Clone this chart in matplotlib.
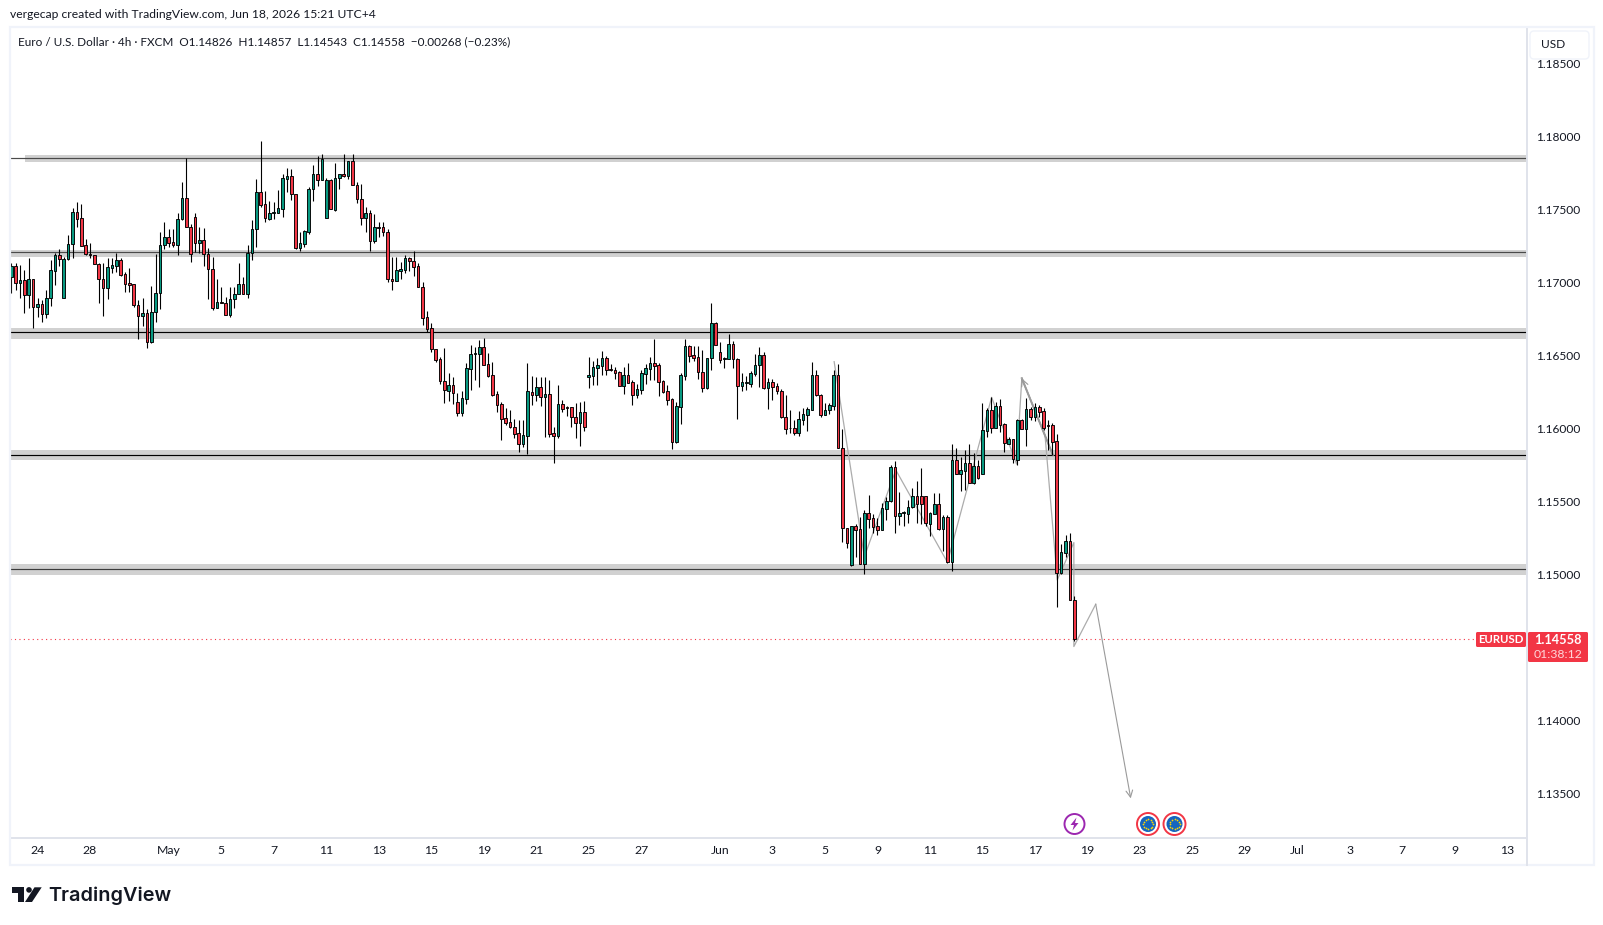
#! /usr/bin/env python3

# EUR/USD 4h candles with support/resistance zones, TradingView style
import matplotlib
matplotlib.use("Agg")
import matplotlib.pyplot as plt
from matplotlib.patches import Circle, FancyBboxPatch, Polygon, Rectangle
import numpy as np

W, H = 1603, 925

opens = [
    1.17041, 1.17115, 1.17000, 1.17019, 1.16918, 1.17023, 1.16831, 1.16854, 1.16788, 1.16893,
    1.17083, 1.17190, 1.16893, 1.17160, 1.17263, 1.17482, 1.17441, 1.17256, 1.17197, 1.17188,
    1.17126, 1.17023, 1.16966, 1.17103, 1.17117, 1.17153, 1.17057, 1.16996, 1.16989, 1.16845,
    1.16770, 1.16790, 1.16596, 1.16797, 1.16927, 1.17256, 1.17311, 1.17276, 1.17261, 1.17434,
    1.17578, 1.17379, 1.17448, 1.17270, 1.17290, 1.17194, 1.17092, 1.16825, 1.16866, 1.16859,
    1.16777, 1.16886, 1.16920, 1.16989, 1.16920, 1.17201, 1.17366, 1.17619, 1.17537, 1.17439,
    1.17475, 1.17480, 1.17507, 1.17713, 1.17729, 1.17605, 1.17240, 1.17268, 1.17350, 1.17640,
    1.17742, 1.17706, 1.17446, 1.17701, 1.17500, 1.17715, 1.17742, 1.17729, 1.17831, 1.17667,
    1.17571, 1.17441, 1.17475, 1.17283, 1.17382, 1.17379, 1.17345, 1.17023, 1.17014, 1.17083,
    1.17090, 1.17167, 1.17147, 1.17112, 1.16968, 1.16763, 1.16687, 1.16548, 1.16475, 1.16329,
    1.16261, 1.16297, 1.16181, 1.16108, 1.16206, 1.16412, 1.16512, 1.16514, 1.16557, 1.16441,
    1.16365, 1.16236, 1.16167, 1.16071, 1.16044, 1.16010, 1.15968, 1.15898, 1.15953, 1.16254,
    1.16233, 1.16283, 1.16219, 1.16235, 1.15968, 1.15952, 1.16167, 1.16149, 1.16146, 1.16078,
    1.16041, 1.16112, 1.16356, 1.16363, 1.16418, 1.16432, 1.16482, 1.16409, 1.16402, 1.16386,
    1.16295, 1.16366, 1.16318, 1.16233, 1.16268, 1.16377, 1.16411, 1.16450, 1.16434, 1.16327,
    1.16256, 1.16203, 1.15911, 1.16151, 1.16363, 1.16564, 1.16502, 1.16489, 1.16386, 1.16281,
    1.16487, 1.16722, 1.16523, 1.16480, 1.16480, 1.16578, 1.16475, 1.16295, 1.16315, 1.16308,
    1.16377, 1.16434, 1.16502, 1.16281, 1.16318, 1.16290, 1.16256, 1.16078, 1.16007, 1.16003,
    1.15973, 1.16062, 1.16096, 1.16130, 1.16366, 1.16233, 1.16096, 1.16126, 1.16158, 1.16366,
    1.15866, 1.15318, 1.15069, 1.15332, 1.15311, 1.15076, 1.15421, 1.15386, 1.15334, 1.15309,
    1.15453, 1.15503, 1.15736, 1.15403, 1.15423, 1.15419, 1.15462, 1.15537, 1.15537, 1.15537,
    1.15350, 1.15419, 1.15482, 1.15316, 1.15393, 1.15090, 1.15784, 1.15691, 1.15713, 1.15763,
    1.15629, 1.15743, 1.15693, 1.15987, 1.16126, 1.16008, 1.16154, 1.16030, 1.15898, 1.15928,
    1.15789, 1.16058, 1.15996, 1.16133, 1.16083, 1.16147, 1.16119, 1.16024, 1.16024, 1.15914,
    1.15010, 1.15152, 1.15229, 1.14826,
]
highs = [
    1.17137, 1.17133, 1.17121, 1.17087, 1.17167, 1.17023, 1.16893, 1.16882, 1.16950, 1.17156,
    1.17201, 1.17231, 1.17178, 1.17327, 1.17509, 1.17553, 1.17539, 1.17299, 1.17270, 1.17188,
    1.17133, 1.17133, 1.17167, 1.17172, 1.17206, 1.17167, 1.17076, 1.17099, 1.16989, 1.16882,
    1.16893, 1.16818, 1.16978, 1.17197, 1.17350, 1.17416, 1.17370, 1.17368, 1.17475, 1.17690,
    1.17852, 1.17402, 1.17475, 1.17384, 1.17373, 1.17236, 1.17178, 1.17026, 1.16973, 1.16904,
    1.16968, 1.16973, 1.17133, 1.17041, 1.17258, 1.17430, 1.17708, 1.17971, 1.17628, 1.17560,
    1.17555, 1.17635, 1.17745, 1.17788, 1.17777, 1.17605, 1.17347, 1.17361, 1.17658, 1.17806,
    1.17868, 1.17882, 1.17715, 1.17708, 1.17822, 1.17742, 1.17882, 1.17831, 1.17882, 1.17690,
    1.17674, 1.17516, 1.17498, 1.17471, 1.17416, 1.17416, 1.17366, 1.17176, 1.17176, 1.17142,
    1.17188, 1.17178, 1.17215, 1.17133, 1.17003, 1.16804, 1.16722, 1.16548, 1.16489, 1.16551,
    1.16379, 1.16352, 1.16242, 1.16261, 1.16448, 1.16573, 1.16562, 1.16608, 1.16619, 1.16516,
    1.16455, 1.16261, 1.16183, 1.16140, 1.16128, 1.16064, 1.16060, 1.16060, 1.16448, 1.16361,
    1.16352, 1.16352, 1.16352, 1.16334, 1.16009, 1.16299, 1.16197, 1.16156, 1.16151, 1.16174,
    1.16185, 1.16190, 1.16493, 1.16466, 1.16482, 1.16532, 1.16498, 1.16443, 1.16425, 1.16395,
    1.16420, 1.16448, 1.16334, 1.16304, 1.16402, 1.16443, 1.16493, 1.16612, 1.16452, 1.16334,
    1.16299, 1.16210, 1.16185, 1.16379, 1.16612, 1.16573, 1.16566, 1.16566, 1.16539, 1.16487,
    1.16859, 1.16729, 1.16592, 1.16493, 1.16646, 1.16603, 1.16484, 1.16379, 1.16361, 1.16395,
    1.16509, 1.16557, 1.16523, 1.16345, 1.16338, 1.16315, 1.16270, 1.16231, 1.16128, 1.16060,
    1.16124, 1.16140, 1.16151, 1.16457, 1.16402, 1.16235, 1.16174, 1.16174, 1.16403, 1.16444,
    1.15998, 1.15318, 1.15336, 1.15345, 1.15398, 1.15444, 1.15546, 1.15416, 1.15391, 1.15489,
    1.15535, 1.15752, 1.15779, 1.15569, 1.15439, 1.15512, 1.15592, 1.15645, 1.15729, 1.15537,
    1.15432, 1.15558, 1.15558, 1.15409, 1.15409, 1.15893, 1.15866, 1.15809, 1.15855, 1.15893,
    1.15832, 1.15786, 1.16179, 1.16140, 1.16215, 1.16186, 1.16204, 1.16037, 1.15941, 1.15928,
    1.16065, 1.16065, 1.16208, 1.16151, 1.16174, 1.16163, 1.16140, 1.16060, 1.16037, 1.15964,
    1.15211, 1.15272, 1.15284, 1.14857,
]
lows = [
    1.16927, 1.16950, 1.16893, 1.16795, 1.16825, 1.16692, 1.16768, 1.16733, 1.16761, 1.16843,
    1.16984, 1.17115, 1.16893, 1.17155, 1.17172, 1.17384, 1.17254, 1.17190, 1.17167, 1.17126,
    1.16863, 1.16774, 1.16889, 1.17069, 1.17076, 1.17048, 1.16939, 1.16939, 1.16836, 1.16615,
    1.16704, 1.16555, 1.16585, 1.16733, 1.16820, 1.17229, 1.17247, 1.17247, 1.17192, 1.17430,
    1.17379, 1.17144, 1.17213, 1.17201, 1.17117, 1.16889, 1.16811, 1.16825, 1.16859, 1.16777,
    1.16768, 1.16825, 1.16920, 1.16920, 1.16893, 1.17156, 1.17247, 1.17521, 1.17418, 1.17430,
    1.17434, 1.17475, 1.17452, 1.17624, 1.17567, 1.17229, 1.17220, 1.17247, 1.17336, 1.17562,
    1.17662, 1.17706, 1.17446, 1.17503, 1.17494, 1.17640, 1.17726, 1.17713, 1.17667, 1.17548,
    1.17395, 1.17350, 1.17220, 1.17274, 1.17315, 1.17322, 1.17007, 1.16950, 1.17014, 1.17026,
    1.17069, 1.17083, 1.17048, 1.16968, 1.16710, 1.16660, 1.16528, 1.16459, 1.16306, 1.16179,
    1.16192, 1.16172, 1.16087, 1.16087, 1.16169, 1.16265, 1.16334, 1.16288, 1.16439, 1.16357,
    1.16224, 1.16117, 1.15923, 1.16026, 1.16007, 1.15939, 1.15843, 1.15877, 1.15829, 1.16162,
    1.16192, 1.16158, 1.15945, 1.15941, 1.15767, 1.15934, 1.16112, 1.16087, 1.16014, 1.15939,
    1.15884, 1.15987, 1.16281, 1.16299, 1.16299, 1.16368, 1.16370, 1.16395, 1.16340, 1.16295,
    1.16238, 1.16315, 1.16162, 1.16210, 1.16240, 1.16304, 1.16334, 1.16334, 1.16224, 1.16242,
    1.16162, 1.15861, 1.15900, 1.16032, 1.16334, 1.16459, 1.16461, 1.16340, 1.16254, 1.16270,
    1.16402, 1.16573, 1.16450, 1.16416, 1.16480, 1.16416, 1.16066, 1.16256, 1.16265, 1.16288,
    1.16363, 1.16288, 1.16274, 1.16137, 1.16197, 1.16235, 1.16071, 1.15964, 1.15968, 1.15955,
    1.15950, 1.16025, 1.15984, 1.16130, 1.16224, 1.16080, 1.16094, 1.16101, 1.16129, 1.15866,
    1.15227, 1.15181, 1.15062, 1.15119, 1.15076, 1.15003, 1.15323, 1.15288, 1.15275, 1.15307,
    1.15375, 1.15501, 1.15288, 1.15341, 1.15336, 1.15357, 1.15460, 1.15357, 1.15348, 1.15336,
    1.15266, 1.15419, 1.15307, 1.15165, 1.15083, 1.15028, 1.15691, 1.15576, 1.15581, 1.15626,
    1.15622, 1.15654, 1.15693, 1.15946, 1.15973, 1.16005, 1.15980, 1.15843, 1.15896, 1.15763,
    1.15752, 1.15996, 1.15884, 1.16060, 1.16053, 1.16083, 1.15992, 1.15855, 1.15820, 1.14782,
    1.15005, 1.15124, 1.14825, 1.14543,
]
closes = [
    1.17115, 1.17000, 1.17019, 1.16918, 1.17023, 1.16831, 1.16854, 1.16788, 1.16893, 1.17087,
    1.17190, 1.17162, 1.17162, 1.17263, 1.17482, 1.17439, 1.17254, 1.17194, 1.17192, 1.17126,
    1.17023, 1.16966, 1.17105, 1.17121, 1.17153, 1.17055, 1.16994, 1.16987, 1.16845, 1.16770,
    1.16790, 1.16596, 1.16797, 1.16927, 1.17256, 1.17311, 1.17274, 1.17261, 1.17434, 1.17578,
    1.17379, 1.17194, 1.17270, 1.17290, 1.17194, 1.17092, 1.16825, 1.16866, 1.16861, 1.16777,
    1.16886, 1.16920, 1.16989, 1.16920, 1.17201, 1.17366, 1.17619, 1.17532, 1.17441, 1.17475,
    1.17482, 1.17509, 1.17715, 1.17729, 1.17605, 1.17240, 1.17270, 1.17352, 1.17640, 1.17742,
    1.17706, 1.17845, 1.17701, 1.17503, 1.17715, 1.17742, 1.17729, 1.17831, 1.17667, 1.17571,
    1.17441, 1.17475, 1.17283, 1.17379, 1.17377, 1.17345, 1.17023, 1.17014, 1.17085, 1.17092,
    1.17167, 1.17147, 1.17110, 1.16968, 1.16761, 1.16685, 1.16548, 1.16473, 1.16329, 1.16263,
    1.16297, 1.16247, 1.16110, 1.16208, 1.16414, 1.16510, 1.16516, 1.16557, 1.16439, 1.16363,
    1.16231, 1.16165, 1.16069, 1.16042, 1.16010, 1.15966, 1.15898, 1.15955, 1.16256, 1.16233,
    1.16283, 1.16219, 1.16235, 1.15966, 1.15952, 1.16167, 1.16137, 1.16140, 1.16078, 1.16041,
    1.16112, 1.16014, 1.16366, 1.16420, 1.16436, 1.16482, 1.16404, 1.16400, 1.16384, 1.16295,
    1.16366, 1.16315, 1.16233, 1.16270, 1.16382, 1.16413, 1.16450, 1.16432, 1.16322, 1.16254,
    1.16199, 1.15911, 1.16153, 1.16366, 1.16564, 1.16500, 1.16484, 1.16386, 1.16281, 1.16487,
    1.16722, 1.16576, 1.16473, 1.16484, 1.16578, 1.16475, 1.16295, 1.16318, 1.16320, 1.16379,
    1.16434, 1.16502, 1.16281, 1.16318, 1.16288, 1.16256, 1.16078, 1.16000, 1.16003, 1.15973,
    1.16064, 1.16098, 1.16135, 1.16366, 1.16231, 1.16096, 1.16126, 1.16162, 1.16366, 1.15866,
    1.15318, 1.15215, 1.15332, 1.15309, 1.15076, 1.15421, 1.15384, 1.15329, 1.15309, 1.15455,
    1.15503, 1.15736, 1.15405, 1.15425, 1.15430, 1.15462, 1.15537, 1.15482, 1.15482, 1.15352,
    1.15421, 1.15482, 1.15314, 1.15393, 1.15088, 1.15784, 1.15693, 1.15715, 1.15763, 1.15631,
    1.15743, 1.15665, 1.15989, 1.16126, 1.16008, 1.16154, 1.16028, 1.15900, 1.15928, 1.15791,
    1.16058, 1.15996, 1.16133, 1.16081, 1.16147, 1.16117, 1.16003, 1.16019, 1.15912, 1.15010,
    1.15154, 1.15229, 1.14825, 1.14558,
]

# support / resistance zones: lower edge, upper edge, centre line
zone_lo = [1.17829, 1.17178, 1.16614, 1.15786, 1.15000]
zone_hi = [1.17875, 1.17224, 1.16690, 1.15854, 1.15073]
zone_mid = [1.17852, 1.17208, 1.16660, 1.15818, 1.15041]
zone_line_col = ["#4a4a4a", "#4a4a4a", "#000000", "#000000", "#3c3c3c"]

# hand drawn projection paths (bar number, price)
path1_bars = [188.1, 195.0, 202.2, 214.0, 224.1, 229.8, 231.0]
path1_prices = [1.16459, 1.15123, 1.15717, 1.15085, 1.16215, 1.15758, 1.16345]
path2_bars = [238.1, 231.0]
path2_prices = [1.15820, 1.16345]
path3_bars = [231.0, 236.3, 239.1, 242.9, 242.9, 247.9, 255.9]
path3_prices = [1.16345, 1.15957, 1.14964, 1.15220, 1.14508, 1.14798, 1.13468]

price_ticks = [1.135, 1.14, 1.15, 1.155, 1.16, 1.165, 1.17, 1.175, 1.18, 1.185]
tick_bars = [6, 18, 36, 48, 60, 72, 84, 96, 108, 120, 132, 144, 162, 174, 186, 198, 210, 222,
             234, 246, 258, 270, 282, 294, 306, 318, 330, 342]
tick_labels = ["24", "28", "May", "5", "7", "11", "13", "15", "19", "21", "25", "27", "Jun", "3",
               "5", "9", "11", "15", "17", "19", "23", "25", "29", "Jul", "3", "7", "9", "13"]

FONT = "Lato"
TXT = "#131722"
GREEN = "#089981"
RED = "#f23645"
BORDER = "#e0e3eb"
GRAY = "#acacac"

plt.rcParams["font.family"] = FONT

fig = plt.figure(figsize=(W / 100, H / 100), dpi=100, facecolor="white")

# main pane, edges given in pixels
left, right, top, bottom = 10, 1527, 27, 838
ax = fig.add_axes([left / W, 1 - bottom / H, (right - left) / W, (bottom - top) / H])

bar_step = 4.3745
ax.set_xlim((left - 11.3) / bar_step, (right - 11.3) / bar_step)
ax.set_ylim(1.18 - (bottom - 136.7) / 14600, 1.18 + (136.7 - top) / 14600)

x = np.arange(len(opens))
o = np.array(opens)
h = np.array(highs)
l = np.array(lows)
c = np.array(closes)

# zones sit under everything; the first one starts a little inside the pane
x_max = ax.get_xlim()[1]
for n in range(len(zone_mid)):
    start = 3.1 if n == 0 else ax.get_xlim()[0]
    ax.fill_between([start, x_max], zone_lo[n], zone_hi[n], color="#d1d1d1", lw=0, zorder=1)
    ax.plot(ax.get_xlim(), [zone_mid[n], zone_mid[n]], color=zone_line_col[n], lw=0.85, zorder=2,
            solid_capstyle="butt")

ax.plot(path1_bars, path1_prices, color=GRAY, lw=0.9, zorder=3)
ax.plot(path2_bars, path2_prices, color="#8a8a8a", lw=1.4, zorder=3)
ax.plot(path3_bars[:-1], path3_prices[:-1], color=GRAY, lw=0.9, zorder=3)
ax.annotate("", xy=(path3_bars[-1], path3_prices[-1]), xytext=(path3_bars[-2], path3_prices[-2]),
            arrowprops=dict(arrowstyle="->", color="#9a9a9a", lw=0.8, shrinkA=0, shrinkB=0, mutation_scale=12),
            zorder=3)
ax.annotate("", xy=(path1_bars[-1], path1_prices[-1]), xytext=(path2_bars[0], path2_prices[0]),
            arrowprops=dict(arrowstyle="->", color="#9a9a9a", lw=0.8, shrinkA=0, shrinkB=0, mutation_scale=12),
            zorder=3)

# candles
ax.vlines(x, l, h, color="black", lw=0.8, zorder=4)
body_col = [GREEN if c[i] >= o[i] else RED for i in range(len(o))]
ax.bar(x, np.maximum(np.abs(c - o), 0.00002), bottom=np.minimum(o, c), width=0.6, color=body_col,
       edgecolor="black", linewidth=0.65, zorder=5)

# last price line
ax.plot([ax.get_xlim()[0], (1476 - 11.3) / bar_step], [c[-1], c[-1]], color=RED, lw=0.8,
        dashes=(1, 3), zorder=2)

ax.yaxis.tick_right()
ax.set_yticks(price_ticks, ["%.5f" % p for p in price_ticks])
ax.set_xticks(tick_bars, tick_labels)
ax.tick_params(axis="y", length=0, pad=6.8, labelsize=8.6, labelcolor=TXT)
ax.tick_params(axis="x", length=0, pad=5, labelsize=8.8, labelcolor=TXT)
ax.spines["top"].set_visible(False)
ax.spines["left"].set_visible(False)
ax.spines["right"].set_color(BORDER)
ax.spines["bottom"].set_color(BORDER)
ax.spines["right"].set_linewidth(1.4)
ax.spines["bottom"].set_linewidth(1.4)

# everything around the pane, in pixel coordinates
ui = fig.add_axes([0, 0, 1, 1], zorder=10)
ui.set_xlim(0, W)
ui.set_ylim(H, 0)
ui.axis("off")

ui.add_patch(Rectangle((9.5, 26.5), 1584, 838.5, fill=False, ec="#f0f3fa", lw=1.6))
ui.plot([right, right], [bottom, 865], color=BORDER, lw=1.4)

ui.text(10, 14.5, "vergecap created with TradingView.com, Jun 18, 2026 15:21 UTC+4", fontsize=8.7,
        color=TXT, va="center")
ui.text(18, 41.5, "Euro / U.S. Dollar \u00b7 4h \u00b7 FXCM  O1.14826  H1.14857  L1.14543  C1.14558  "
        "\u22120.00268 (\u22120.23%)", fontsize=8.5, color=TXT, va="center")

# currency button covers the top price label
ui.add_patch(FancyBboxPatch((1530, 31), 59, 28, boxstyle="round,pad=0,rounding_size=4", fc="white",
                            ec="#f0f3fa", lw=1))
ui.text(1540.5, 45, "USD", fontsize=8.6, color=TXT, va="center")

# last price tags
ui.add_patch(FancyBboxPatch((1476, 632), 50, 15, boxstyle="round,pad=0,rounding_size=1.5", fc=RED,
                            ec="none"))
ui.text(1501, 639.5, "EURUSD", fontsize=8.2, color="white", ha="center", va="center", weight="bold")
ui.add_patch(FancyBboxPatch((1528, 632), 60, 30, boxstyle="round,pad=0,rounding_size=1.5", fc=RED,
                            ec="none"))
ui.text(1558, 639.5, "%.5f" % closes[-1], fontsize=9.2, color="white", ha="center", va="center",
        weight="bold")
ui.text(1558, 654, "01:38:12", fontsize=8.8, color="#ffd5d9", ha="center", va="center")

# event markers under the candles
ui.add_patch(Circle((1074.5, 824), 10, fc="white", ec="#9c27b0", lw=1.4))
ui.add_patch(Polygon([(1076.5, 817.5), (1070.5, 825), (1074, 825), (1072.5, 830.5), (1078.5, 823),
                      (1075, 823)], closed=True, fc="#9c27b0", ec="none"))
for cx in [1148, 1174.5]:
    ui.add_patch(Circle((cx, 824), 11, fc="white", ec=RED, lw=1.4))
    ui.add_patch(Circle((cx, 824), 8, fc="#1565c0", ec="none"))
    ang = np.arange(12) * np.pi / 6
    ui.scatter(cx + 5 * np.cos(ang), 824 + 5 * np.sin(ang), s=1.6, color="#ffd600", lw=0)

# logo
logo = "#131722"
ui.add_patch(Polygon([(12.3, 887.3), (24.3, 887.3), (24.3, 902), (18.3, 902), (18.3, 893), (12.3, 893)],
                     closed=True, fc=logo, ec="none"))
ui.add_patch(Circle((29, 889.9), 2.8, fc=logo, ec="none"))
ui.add_patch(Polygon([(34.5, 887.3), (41.7, 887.3), (32, 902), (25, 902)], closed=True, fc=logo, ec="none"))
ui.text(48, 896, "TradingView", family="Inter", fontsize=14.3, weight="semibold", color=logo, va="center")

fig.savefig("out.png", dpi=100, facecolor="white")
